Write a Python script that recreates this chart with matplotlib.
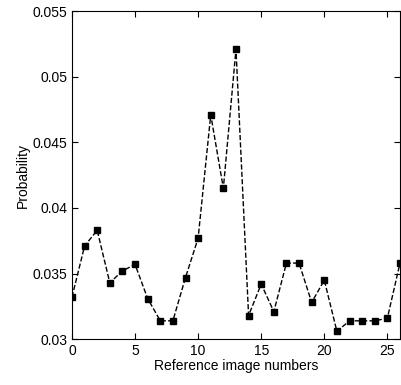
import matplotlib
matplotlib.use('Agg')
import matplotlib.pyplot as plt

plt.rcParams['font.family'] = ['Liberation Sans', 'DejaVu Sans']

# probability per reference image
image_numbers = list(range(27))
probability = [0.0332, 0.0371, 0.0383, 0.0343, 0.0352, 0.0357, 0.0331, 0.0314,
               0.0314, 0.0347, 0.0377, 0.0471, 0.0415, 0.0521, 0.0318, 0.0342,
               0.0321, 0.0358, 0.0358, 0.0328, 0.0345, 0.0306, 0.0314, 0.0314,
               0.0314, 0.0316, 0.0358]

fig = plt.figure(figsize=(4.02, 3.85), dpi=100)
ax = fig.add_axes([0.179, 0.119, 0.816, 0.852])
ax.plot(image_numbers, probability, 'k--s', markersize=4, linewidth=1)
ax.set_xlim(0, 26)
ax.set_ylim(0.03, 0.055)
ax.set_xticks([0, 5, 10, 15, 20, 25])
ax.set_yticks([0.03, 0.035, 0.04, 0.045, 0.05, 0.055])
ax.set_yticklabels(['0.03', '0.035', '0.04', '0.045', '0.05', '0.055'])
ax.tick_params(direction='in', top=True, right=True, labelsize=10, length=4)
ax.set_xlabel('Reference image numbers', fontsize=10, labelpad=1)
ax.set_ylabel('Probability', fontsize=10, labelpad=2)

fig.savefig('out.png', dpi=100)
